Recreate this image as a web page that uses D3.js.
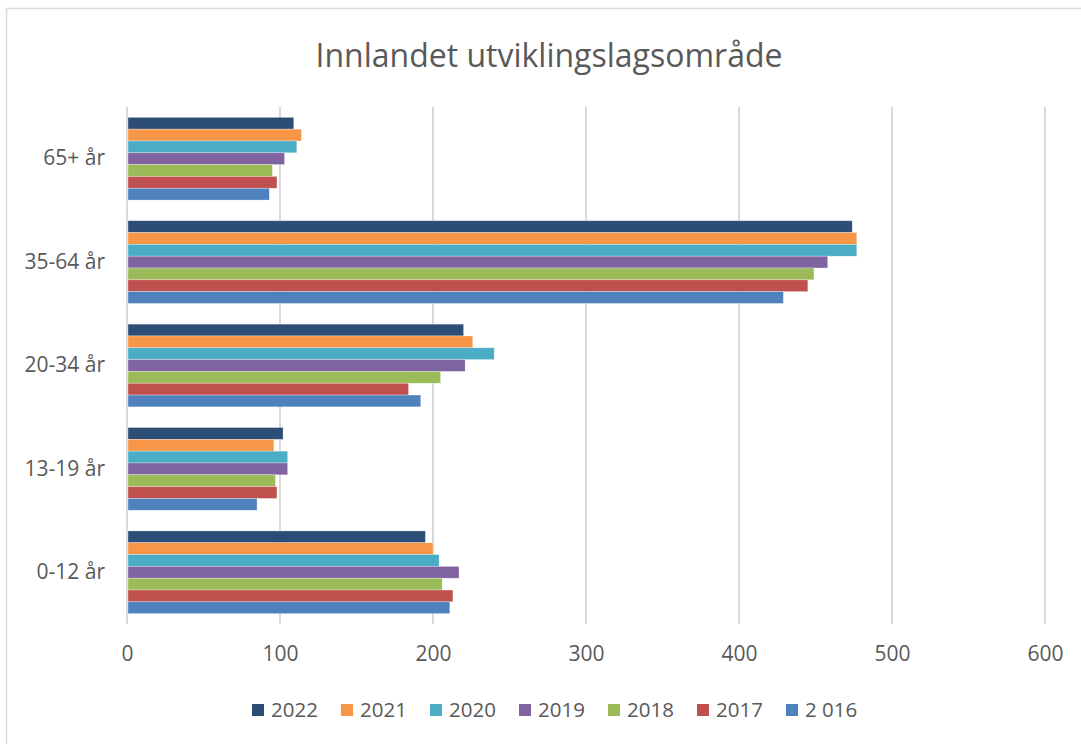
<!DOCTYPE html>
<html>
<head>
<meta charset="utf-8">
<script src="https://cdn.jsdelivr.net/npm/d3@7"></script>
<style>
  body { margin: 0; background: #fff; }
  text { font-family: "Open Sans", "Noto Sans", sans-serif; fill: #595959; }
</style>
</head>
<body>
<svg id="chart" width="1081" height="744"></svg>
<script>
// DATA
const categories = ["65+ år", "35-64 år", "20-34 år", "13-19 år", "0-12 år"];
const seriesNames = ["2022", "2021", "2020", "2019", "2018", "2017", "2 016"];
const seriesColors = ["#2C4D75", "#F79646", "#4BACC6", "#8064A2", "#9BBB59", "#C0504D", "#4F81BD"];
// one array per year, values in category order
const v2022 = [109, 474, 220, 102, 195];
const v2021 = [114, 477, 226, 96, 200];
const v2020 = [111, 477, 240, 105, 204];
const v2019 = [103, 458, 221, 105, 217];
const v2018 = [95, 449, 205, 97, 206];
const v2017 = [98, 445, 184, 98, 213];
const v2016 = [93, 429, 192, 85, 211];
const seriesValues = [v2022, v2021, v2020, v2019, v2018, v2017, v2016];
const xTicks = [0, 100, 200, 300, 400, 500, 600];

const svg = d3.select("#chart");

// chart border (runs off right / bottom edge like the original)
svg.append("rect")
  .attr("x", 6.5).attr("y", 8.5)
  .attr("width", 1090).attr("height", 750)
  .attr("fill", "none")
  .attr("stroke", "#d9d9d9")
  .attr("stroke-width", 1.5);

const plot = { left: 127, right: 1045, top: 107, bottom: 624 };

// title
svg.append("text")
  .attr("x", 549)
  .attr("y", 67)
  .attr("text-anchor", "middle")
  .style("font-size", "32px")
  .text("Innlandet utviklingslagsområde");

// scales
const x = d3.scaleLinear().domain([0, 600]).range([plot.left, plot.right]);
const y = d3.scaleBand().domain(categories).range([plot.top, plot.bottom])
  .paddingInner(0.2).paddingOuter(0.1);
const ySub = d3.scaleBand().domain(seriesNames).range([0, y.bandwidth()]);

// gridlines
svg.append("g")
  .selectAll("line")
  .data(xTicks)
  .join("line")
  .attr("x1", d => x(d)).attr("x2", d => x(d))
  .attr("y1", plot.top).attr("y2", plot.bottom)
  .attr("stroke", "#d9d9d9")
  .attr("stroke-width", 2);

// x axis labels
const xAxis = svg.append("g")
  .attr("transform", `translate(0,${plot.bottom})`)
  .call(d3.axisBottom(x).tickValues(xTicks).tickSize(0).tickPadding(22));
xAxis.select(".domain").remove();
xAxis.selectAll("text")
  .style("font-size", "21px")
  .style("font-family", "'Open Sans', 'Noto Sans', sans-serif")
  .attr("fill", "#595959");

// y axis labels
const yAxis = svg.append("g")
  .attr("transform", `translate(${plot.left},0)`)
  .call(d3.axisLeft(y).tickSize(0).tickPadding(22));
yAxis.select(".domain").remove();
yAxis.selectAll("text")
  .style("font-size", "21px")
  .style("font-family", "'Open Sans', 'Noto Sans', sans-serif")
  .attr("fill", "#595959");

// bars
const rows = [];
seriesNames.forEach((s, si) => {
  categories.forEach((c, ci) => {
    rows.push({ series: s, cat: c, value: seriesValues[si][ci], color: seriesColors[si] });
  });
});

svg.append("g")
  .selectAll("rect")
  .data(rows)
  .join("rect")
  .attr("x", x(0) + 1)
  .attr("y", d => y(d.cat) + ySub(d.series))
  .attr("width", d => x(d.value) - x(0) - 1)
  .attr("height", ySub.bandwidth())
  .attr("fill", d => d.color)
  .attr("stroke", "#ffffff")
  .attr("stroke-opacity", 0.5)
  .attr("stroke-width", 0.6);

// legend
const legend = svg.append("g")
  .attr("transform", "translate(252,710)");
const item = legend.selectAll("g")
  .data(seriesNames)
  .join("g")
  .attr("transform", (d, i) => `translate(${i * 89},0)`);
item.append("rect")
  .attr("x", 0).attr("y", -6)
  .attr("width", 12).attr("height", 12)
  .attr("fill", (d, i) => seriesColors[i]);
item.append("text")
  .attr("x", 19)
  .attr("dy", "0.35em")
  .style("font-size", "20.5px")
  .text(d => d);
</script>
</body>
</html>
